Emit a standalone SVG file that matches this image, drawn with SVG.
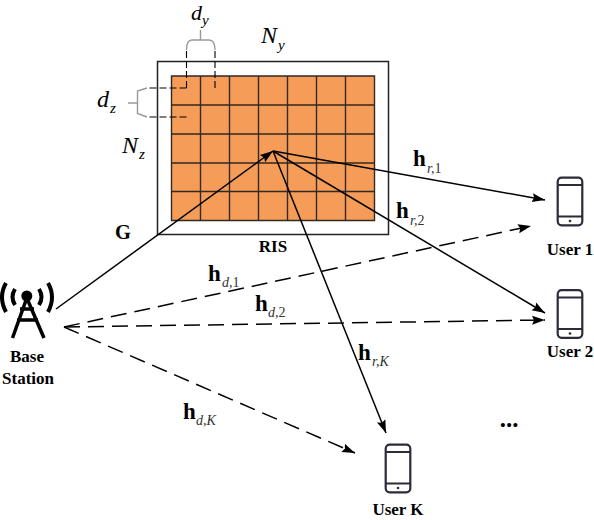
<svg xmlns="http://www.w3.org/2000/svg" width="594" height="520" viewBox="0 0 594 520">
<style>
text{font-family:"Liberation Serif","Times New Roman",serif;fill:#000}
.lab{font-weight:bold;font-size:17px;text-anchor:middle}
.h{font-weight:bold;font-size:23px}
.sub{font-style:italic;font-size:14px;fill:#333}
.up{font-style:normal}
.v{font-style:italic;font-size:24px}
.vs{font-style:italic;font-size:15px}
.conn{stroke:#000;stroke-width:1.5;fill:none}
.dash{stroke-dasharray:16 8}
.grid{stroke:#33291f;stroke-width:1.4;fill:none}
.brk{stroke:#999;stroke-width:1.4;fill:none}
.bd{stroke:#000;stroke-width:1.1;fill:none;stroke-dasharray:7 3}
.ph{fill:none;stroke:#2b2b3a;stroke-width:2.2}
</style>
<defs>
<marker id="arr" markerUnits="userSpaceOnUse" markerWidth="16" markerHeight="12" refX="13" refY="6" orient="auto"><path d="M0,1.500 L13,6 L0,10.500 L2,6 Z" fill="#000"/></marker>
<g id="phone">
<rect x="1.200" y="1.200" width="24.600" height="47.600" rx="4" class="ph"/>
<path d="M1.200,8.500H25.800M1.200,40H25.800" class="ph"/>
<circle cx="13.500" cy="44.500" r="1.300" fill="#2b2b3a"/>
</g>
</defs>
<g id="ris">
<rect x="157.500" y="61.500" width="231" height="173" fill="#fff" stroke="#222" stroke-width="1.500"/>
<rect x="171.500" y="76" width="203" height="144.500" fill="#f59d58"/>
<path class="grid" d="M171.500,76H374.500V220.500H171.500ZM200.500,76V220.500M229.500,76V220.500M258.500,76V220.500M287.500,76V220.500M316.500,76V220.500M345.500,76V220.500M171.500,105H374.500M171.500,134H374.500M171.500,163H374.500M171.500,191.500H374.500"/>
<path class="bd" d="M186.500,88V50M215,88V50M186.500,88H147M186.500,117H147"/>
<path class="brk" d="M186.500,50Q186.500,40 192,40H209Q215,40 215,50M200.500,40V30"/>
<path class="brk" d="M147,88L137.500,91V113.500L147,117M137.500,103H128"/>
<text class="lab" x="273" y="252">RIS</text>
</g>
<g id="labels">
<text class="v" x="191" y="20" style="font-size:22px">d</text><text class="vs" x="202" y="25">y</text>
<text class="v" x="261" y="43">N</text><text class="vs" x="278" y="50">y</text>
<text class="v" x="97" y="107">d</text><text class="vs" x="110" y="113">z</text>
<text class="v" x="122" y="153">N</text><text class="vs" x="139" y="159">z</text>
<text x="115" y="239" font-weight="bold" font-size="20.500">G</text>
<text class="h" x="413" y="166">h</text><text class="sub" x="427" y="173">r,<tspan class="up">1</tspan></text>
<text class="h" x="396" y="218">h</text><text class="sub" x="410" y="225">r,<tspan class="up">2</tspan></text>
<text class="h" x="208" y="281">h</text><text class="sub" x="222" y="287">d,<tspan class="up">1</tspan></text>
<text class="h" x="255" y="311">h</text><text class="sub" x="268" y="317">d,<tspan class="up">2</tspan></text>
<text class="h" x="358" y="360">h</text><text class="sub" x="372" y="366">r,K</text>
<text class="h" x="183" y="419">h</text><text class="sub" x="196" y="425">d,K</text>
<text x="509" y="427" font-weight="bold" font-size="25" text-anchor="middle" id="dots">...</text>
</g>
<g id="connectors">
<path class="conn" marker-end="url(#arr)" d="M56,309L273,151"/>
<path class="conn" marker-end="url(#arr)" d="M273,151L545,200"/>
<path class="conn" marker-end="url(#arr)" d="M273,151L545,313"/>
<path class="conn" marker-end="url(#arr)" d="M273,151L386,433"/>
<path class="conn dash" marker-end="url(#arr)" d="M64,327L531,226"/>
<path class="conn dash" marker-end="url(#arr)" d="M64,327L545,320"/>
<path class="conn dash" marker-end="url(#arr)" d="M64,327L355,453"/>
</g>
<g id="base-station">
<circle cx="26.800" cy="296" r="5.500" fill="#000"/>
<path d="M26.800,298L12.500,338M26.800,298L44,338" stroke="#000" stroke-width="3.500" fill="none"/>
<path d="M20,309H34M17,320H38" stroke="#000" stroke-width="3.500" fill="none"/>
<path d="M15,289Q10,297 15,305M39,289Q44,297 39,305M6,283Q-2,297 6,312M48,283Q56,297 48,312" stroke="#000" stroke-width="4" fill="none"/>
<text class="lab" x="27" y="362">Base</text>
<text class="lab" x="28" y="384">Station</text>
</g>
<g id="user-1"><use href="#phone" x="556.500" y="176.500"/><text class="lab" x="570" y="255">User 1</text></g>
<g id="user-2"><use href="#phone" x="556.500" y="289"/><text class="lab" x="570" y="357">User 2</text></g>
<g id="user-k"><use href="#phone" x="384.500" y="443.500"/><text class="lab" x="398" y="515">User K</text></g>
</svg>
